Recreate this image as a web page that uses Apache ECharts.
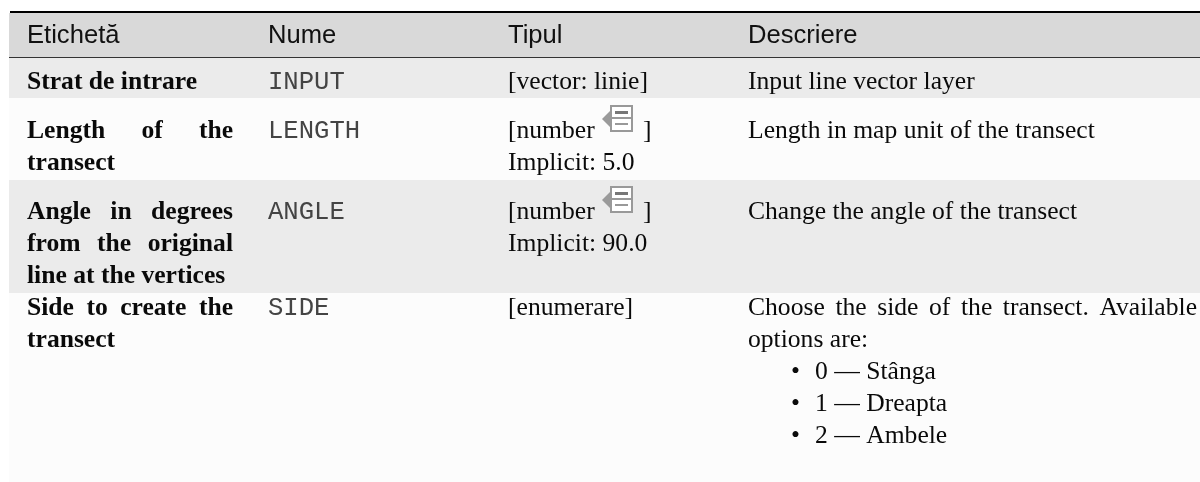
<!DOCTYPE html>
<html><head><meta charset="utf-8">
<style>html,body{margin:0;padding:0;background:#fff}#c{width:1200px;height:482px}</style>
<script src="https://cdn.jsdelivr.net/npm/echarts@6/dist/echarts.min.js"></script>
</head><body><div id="c"></div>
<script>
var headers = ['Etichetă','Nume','Tipul','Descriere'];
var labels = [['Strat de intrare'],['Length of the','transect'],['Angle in degrees','from the original','line at the vertices'],['Side to create the','transect']];
var names = ['INPUT','LENGTH','ANGLE','SIDE'];
var types = [['[vector: linie]'],['[number','Implicit: 5.0'],['[number','Implicit: 90.0'],['[enumerare]']];
var descriptions = [['Input line vector layer'],['Length in map unit of the transect'],['Change the angle of the transect'],['Choose the side of the transect. Available','options are:']];
var optionItems = ['0 — Stânga','1 — Dreapta','2 — Ambele'];

var chart = echarts.init(document.getElementById('c'), null, {renderer:'canvas'});
var SERIF='"Liberation Serif"', SANS='"Liberation Sans"', MONO='"Liberation Mono"';
var colX=[27,268,508,748], colEnd=[233,0,0,1197];
var rowTops=[58,98,180,293,482], rowFill=['#ebebeb','#fcfcfc','#ebebeb','#fcfcfc'];
var firstBase=[89,138,219,315], LH=32;
var SZ={head:25.6,body:25.6,mono:25.6};
var ctx=document.createElement('canvas').getContext('2d');
var els=[];
function rect(x,y,w,h,fill){els.push({type:'rect',silent:true,shape:{x:x,y:y,width:w,height:h},style:{fill:fill}});}
function text(t,x,base,size,family,weight,color){
  els.push({type:'text',silent:true,x:x,y:base,style:{text:t,x:0,y:-0.27*size,font:(weight||'normal')+' '+size+'px '+family,fill:color||'#0a0a0a',align:'left',verticalAlign:'middle'}});
}
function justified(line,x,end,base,size,family,weight){
  var words=line.split(' ');
  ctx.font=(weight||'normal')+' '+size+'px '+family;
  var tot=0;words.forEach(function(w){tot+=ctx.measureText(w).width;});
  var gap=(end-x-tot)/(words.length-1),cx=x;
  words.forEach(function(w){text(w,cx,base,size,family,weight);cx+=ctx.measureText(w).width+gap;});
}
function icon(x,y){
  els.push({type:'polygon',silent:true,shape:{points:[[x,y+14],[x+9,y+5],[x+9,y+23]]},style:{fill:'#9a9a9a'}});
  els.push({type:'rect',silent:true,shape:{x:x+9,y:y+1,width:21,height:25},style:{fill:'#fff',stroke:'#999',lineWidth:2}});
  els.push({type:'rect',silent:true,shape:{x:x+13,y:y+6,width:13,height:3},style:{fill:'#777'}});
  els.push({type:'rect',silent:true,shape:{x:x+13,y:y+18,width:13,height:2},style:{fill:'#999'}});
  els.push({type:'rect',silent:true,shape:{x:x+9,y:y+12,width:21,height:2},style:{fill:'#999'}});
}
rect(9,13,1191,44,'#d9d9d9');
rect(10,11,1190,2,'#000');
rect(9,57,1191,1,'#333');
rowFill.forEach(function(f,i){rect(9,rowTops[i],1191,rowTops[i+1]-rowTops[i],f);});
headers.forEach(function(h,i){text(h,colX[i],43,SZ.head,SANS,'normal','#111');});
labels.forEach(function(ls,r){ls.forEach(function(l,k){
  var b=firstBase[r]+k*LH;
  if(k<ls.length-1) justified(l,colX[0],colEnd[0],b,SZ.body,SERIF,'bold');
  else text(l,colX[0],b,SZ.body,SERIF,'bold');
});});
names.forEach(function(n,r){text(n,colX[1],firstBase[r],SZ.mono,MONO,'normal','#444');});
types.forEach(function(ls,r){ls.forEach(function(l,k){text(l,colX[2],firstBase[r]+k*LH,SZ.body,SERIF);});});
[1,2].forEach(function(r){
  icon(602,firstBase[r]-33);
  text(']',643,firstBase[r],SZ.body,SERIF);
});
descriptions.forEach(function(ls,r){ls.forEach(function(l,k){
  var b=firstBase[r]+k*LH;
  if(r===3&&k===0) justified(l,colX[3],colEnd[3],b,SZ.body,SERIF);
  else text(l,colX[3],b,SZ.body,SERIF);
});});
optionItems.forEach(function(o,i){
  var b=379+i*LH;
  text('•',791,b,SZ.body,SERIF);
  text(o,815,b,SZ.body,SERIF);
});
chart.setOption({animation:false,backgroundColor:'#fff',graphic:{elements:els}});
</script></body></html>
